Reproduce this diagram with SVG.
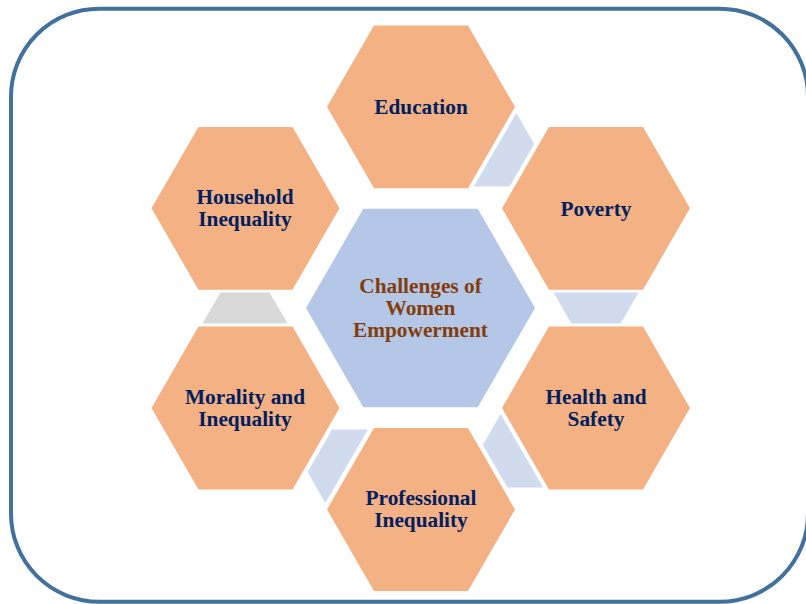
<svg xmlns="http://www.w3.org/2000/svg" xmlns:xlink="http://www.w3.org/1999/xlink" width="806" height="604" viewBox="0 0 806 604">
  <style>
    .frame { fill: #ffffff; stroke: #41719c; stroke-width: 4; }
    .hex { fill: #f4b183; }
    .hub { fill: #b4c7e7; }
    .link { fill: #d0dcee; }
    .link-grey { fill: #d9d9d9; }
    .lbl { font-family: "Liberation Serif", "Times New Roman", serif; font-weight: bold; font-size: 21.3px; fill: #002060; text-anchor: middle; }
    .hub-lbl { fill: #843c0c; }
  </style>
  <defs>
    <!-- regular hexagon, flat top and bottom, circumradius 94 -->
    <polygon id="hex" points="-94,0 -47,-81.4 47,-81.4 94,0 47,81.4 -47,81.4"/>
    <!-- trapezoid pointing along +y, placed in the gaps between hexagons -->
    <polygon id="trap" points="-42.5,-15.5 42.5,-15.5 24.6,15.5 -24.6,15.5"/>
  </defs>

  <rect class="frame" x="11" y="8.7" width="797" height="593" rx="88" ry="88"/>

  <g id="connectors">
    <use xlink:href="#trap" class="link" transform="translate(508.5,157.5) rotate(-60)"/>
    <use xlink:href="#trap" class="link" transform="translate(596,308)"/>
    <use xlink:href="#trap" class="link" transform="translate(508.5,458.5) rotate(60)"/>
    <use xlink:href="#trap" class="link" transform="translate(333.25,458.5) rotate(120)"/>
    <use xlink:href="#trap" class="link-grey" transform="translate(245,308) rotate(180)"/>
  </g>

  <g id="hub">
    <polygon class="hub" points="306,308 363.25,208.8 477.75,208.8 535,308 477.75,407.2 363.25,407.2"/>
    <text class="lbl hub-lbl" x="420.5" y="293.3">Challenges of</text>
    <text class="lbl hub-lbl" x="420.5" y="315">Women</text>
    <text class="lbl hub-lbl" x="420.5" y="336.7">Empowerment</text>
  </g>

  <g id="education">
    <use xlink:href="#hex" class="hex" transform="translate(421,106.8)"/>
    <text class="lbl" x="421" y="114.3">Education</text>
  </g>

  <g id="poverty">
    <use xlink:href="#hex" class="hex" transform="translate(596,208.3)"/>
    <text class="lbl" x="596" y="215.5">Poverty</text>
  </g>

  <g id="health-safety">
    <use xlink:href="#hex" class="hex" transform="translate(596,408)"/>
    <text class="lbl" x="596" y="404">Health and</text>
    <text class="lbl" x="596" y="425.7">Safety</text>
  </g>

  <g id="professional-inequality">
    <use xlink:href="#hex" class="hex" transform="translate(421,509.5)"/>
    <text class="lbl" x="421" y="505">Professional</text>
    <text class="lbl" x="421" y="526.7">Inequality</text>
  </g>

  <g id="morality-inequality">
    <use xlink:href="#hex" class="hex" transform="translate(245.5,408)"/>
    <text class="lbl" x="245" y="404">Morality and</text>
    <text class="lbl" x="245" y="425.7">Inequality</text>
  </g>

  <g id="household-inequality">
    <use xlink:href="#hex" class="hex" transform="translate(245.5,208.3)"/>
    <text class="lbl" x="245" y="203.5">Household</text>
    <text class="lbl" x="245" y="226">Inequality</text>
  </g>
</svg>
